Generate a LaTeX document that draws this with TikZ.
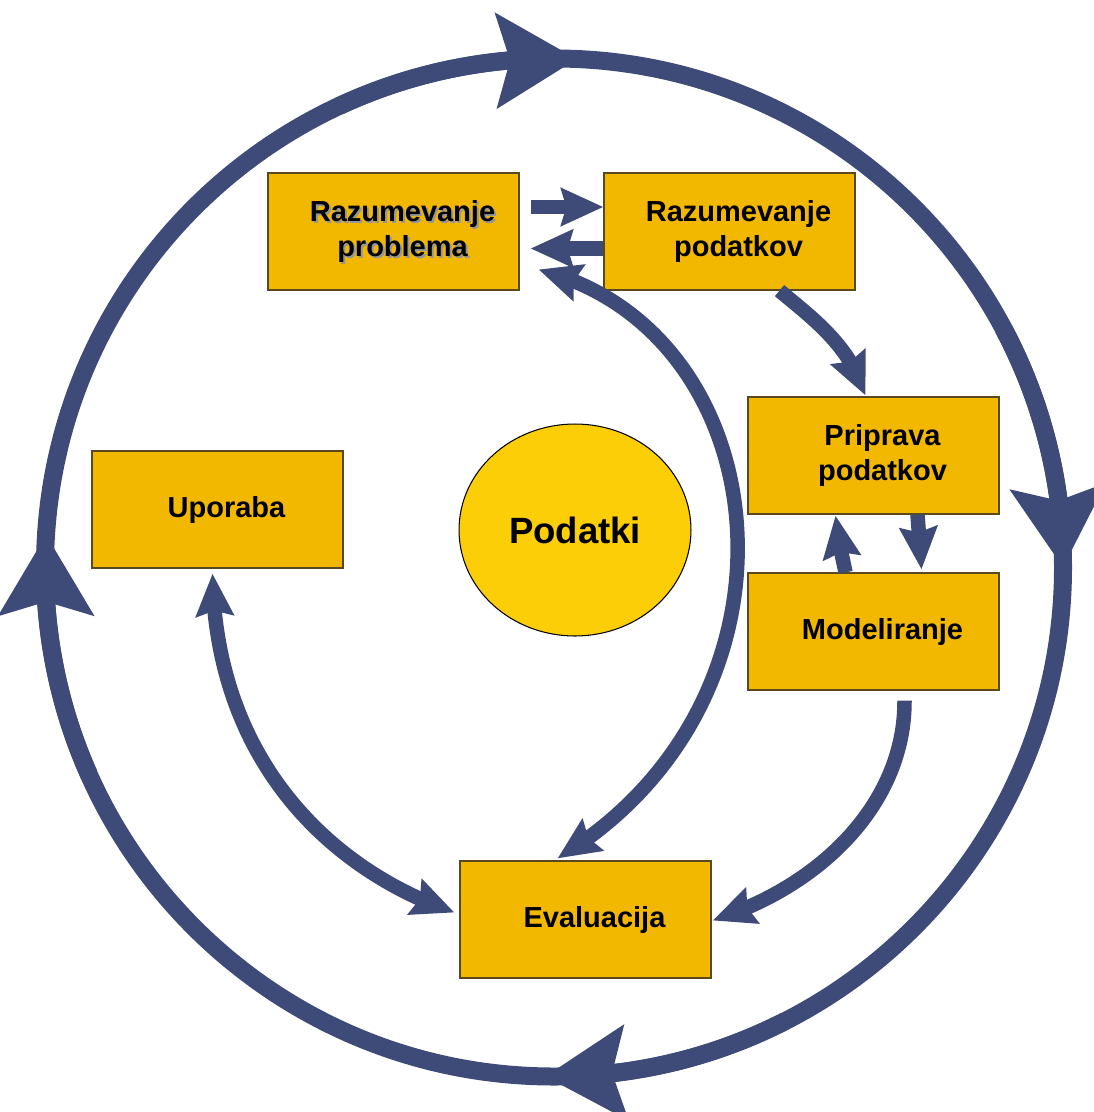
\documentclass[tikz,border=0pt]{standalone}
\usepackage{fontspec}
\setmainfont{Liberation Sans}
\usetikzlibrary{arrows.meta,bending,shapes.geometric}

\definecolor{ringblue}{RGB}{62,74,120}
\definecolor{boxgold}{RGB}{242,184,0}
\definecolor{circgold}{RGB}{252,206,8}
\definecolor{boxedge}{RGB}{90,72,30}
\definecolor{shadegrey}{RGB}{150,150,150}

\tikzset{
  phasetext/.style={align=center, inner sep=0pt, xshift=0.18cm,
    font=\fontsize{16.5}{19.5}\selectfont\bfseries},
  phase/.style={draw=boxedge, line width=0.7pt, fill=boxgold,
    minimum width=5.02cm, minimum height=2.34cm, inner sep=0pt,
    label={[phasetext]center:{#1}}},
  ringline/.style={draw=ringblue, line width=0.36cm},
  ring/.style={ringline, -{Stealth[length=1.6cm, width=1.86cm, inset=0.26cm]}},
  flow/.style={draw=ringblue, line width=0.29cm,
    -{Stealth[length=0.84cm, width=0.74cm, inset=0.1cm]}},
  flowboth/.style={draw=ringblue, line width=0.29cm,
    {Stealth[length=0.84cm, width=0.74cm, inset=0.1cm]}-{Stealth[length=0.84cm, width=0.74cm, inset=0.1cm]}}
}

\begin{document}
\begin{tikzpicture}[x=0.02cm, y=-0.02cm]
    \useasboundingbox (0,0) rectangle (1094,1112);

    % Outer cycle
    \coordinate (hub) at (554,567.5);
    \draw[ringline] (hub) circle[radius=509];
    \draw[ring] (hub) ++(-115:509) arc[start angle=-115, end angle=-87.4, radius=509];
    \draw[ring] (hub) ++(-28:509) arc[start angle=-28, end angle=0, radius=509];
    \draw[ring] (hub) ++(63:509) arc[start angle=63, end angle=91, radius=509];
    \draw[ring] (hub) ++(156:509) arc[start angle=156, end angle=183.7, radius=509];

    % Phases
    \node[phase={}, label={[phasetext, text=shadegrey, shift={(2,2)}]center:{Razumevanje\\problema}},
      label={[phasetext]center:{Razumevanje\\problema}}] (rp) at (393.5,231.5) {};
    \node[phase={Razumevanje\\podatkov}] (rpod) at (729.5,231.5) {};
    \node[phase={Priprava\\podatkov}] (prip) at (873.5,455.5) {};
    \node[phase={Modeliranje}] (model) at (873.5,631.5) {};
    \node[phase={Evaluacija}] (eval) at (585.5,919.5) {};
    \node[phase={Uporaba}] (upor) at (217.5,509.5) {};

    % Data in the middle
    \node[ellipse, draw=black, line width=0.6pt, fill=circgold,
      minimum width=4.64cm, minimum height=4.24cm,
      font=\fontsize{20.8}{24}\selectfont\bfseries] (data) at (575,530) {Podatki};

    % Inner flows
    \draw[flow] ([shift={(11,-24.5)}]rp.east) -- ([shift={(0,-24.5)}]rpod.west);
    \draw[flow] ([shift={(0,17)}]rpod.west) -- ([shift={(11,17)}]rp.east);
    \draw[flow] ([shift={(50,0)}]rpod.south) .. controls (812,318) and (850,345) .. ([shift={(-8,-1)}]prip.north);
    \draw[flow] ([shift={(-28,0)}]model.north) .. controls (842,555) and (838,540) .. ([shift={(-38,1)}]prip.south);
    \draw[flow] ([shift={(44,0)}]prip.south) -- ([shift={(48,-3)}]model.north);
    \draw[flow] ([shift={(31,10)}]model.south) .. controls (905,800) and (825,885) .. ([shift={(1,1)}]eval.east);
    \draw[flowboth] ([shift={(-28,-2)}]eval.north) .. controls (820,700) and (780,330) .. ([shift={(19,38)}]rp.east);
    \draw[flowboth] ([shift={(-5,5)}]upor.south) .. controls (215,760) and (330,870) .. ([shift={(-5,-7)}]eval.west);
\end{tikzpicture}
\end{document}
